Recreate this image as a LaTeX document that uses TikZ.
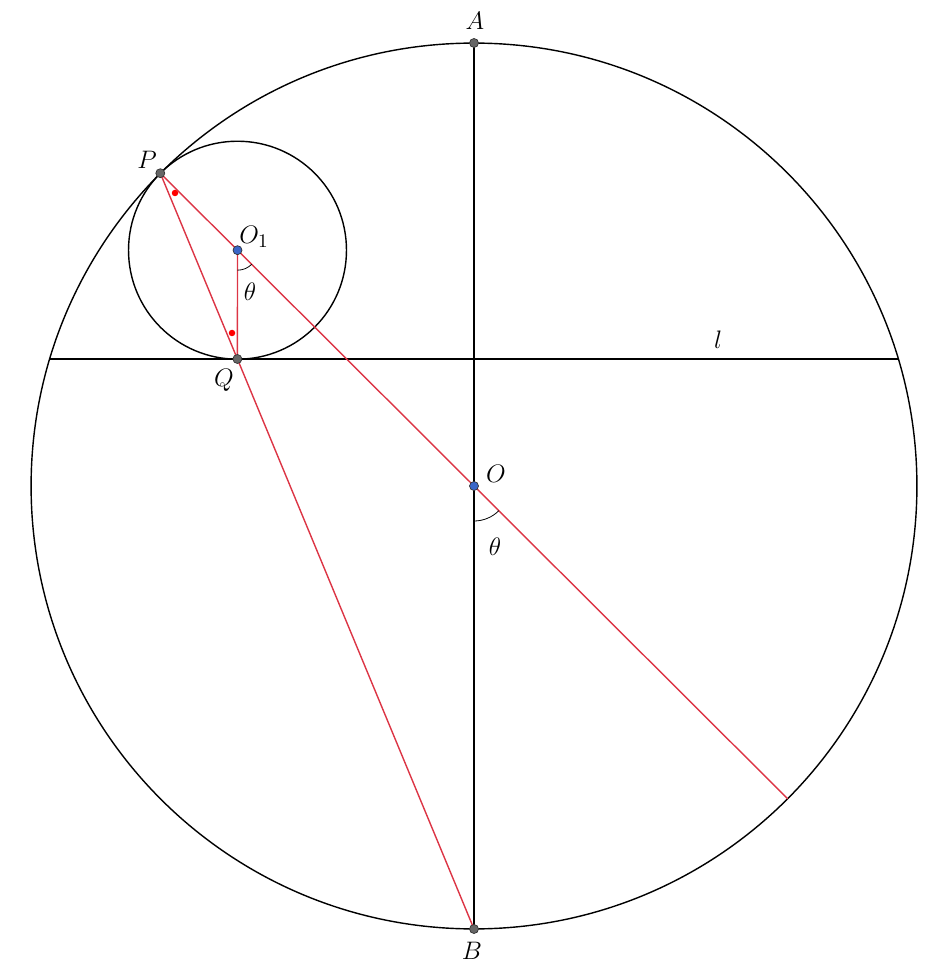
\documentclass[tikz,border=0pt]{standalone}
\usetikzlibrary{calc}
\definecolor{lred}{HTML}{DC3545}
\definecolor{ptgray}{HTML}{666666}
\definecolor{ptblue}{HTML}{3A66C8}
\begin{document}
\begin{tikzpicture}[x=0.02cm,y=-0.02cm,
  blk/.style={line width=0.8pt,black},
  redln/.style={line width=0.8pt,lred},
  grpt/.style={circle,fill=ptgray,draw=black!80,line width=0.4pt,inner sep=0pt,minimum size=0.18cm},
  blpt/.style={circle,fill=ptblue,draw=black!80,line width=0.4pt,inner sep=0pt,minimum size=0.18cm},
  rdot/.style={circle,fill=red,inner sep=0pt,minimum size=0.13cm},
  lbl/.style={font=\fontsize{15.5}{18}\selectfont,inner sep=0pt}]
\useasboundingbox (0,0) rectangle (947,972);
% key points
\coordinate (O) at (474,486);
\coordinate (A) at (474,43);
\coordinate (B) at (474,929);
\coordinate (P) at (160.3,173.2);
\coordinate (O1) at (237.5,250.2);
\coordinate (Q) at (237.4,359);
\coordinate (Pp) at (787.7,798.8);
\coordinate (L1) at (49.6,359);
\coordinate (L2) at (898.4,359);
% circles and black lines
\draw[blk] (O) circle[radius=8.86cm];
\draw[blk] (O1) circle[radius=2.18cm];
\draw[blk] (L1) -- (L2);
\draw[blk] (A) -- (B);
% red lines
\draw[redln] (P) -- (Pp);
\draw[redln] (P) -- (B);
\draw[redln] (O1) -- (Q);
% angle arcs
\draw[line width=0.45pt] ($(O1)+(-90:0.4cm)$) arc[start angle=-90,end angle=-45,radius=0.4cm];
\draw[line width=0.45pt] ($(O)+(-90:0.7cm)$) arc[start angle=-90,end angle=-45,radius=0.7cm];
% equal angle marks
\node[rdot] (m1) at (175,193) {};
\node[rdot] (m2) at (232,333) {};
% points
\node[grpt] (pA) at (A) {};
\node[grpt] (pB) at (B) {};
\node[grpt] (pP) at (P) {};
\node[grpt] (pQ) at (Q) {};
\node[blpt] (pO) at (O) {};
\node[blpt] (pO1) at (O1) {};
% labels
\node[lbl] (tA) at (475,21) {$A$};
\node[lbl] (tB) at (472,951) {$B$};
\node[lbl] (tP) at (147,160) {$P$};
\node[lbl] (tO1) at (254,237) {$O_1$};
\node[lbl] (tQ) at (224,380) {$Q$};
\node[lbl] (tO) at (496,474) {$O$};
\node[lbl] (tl) at (718,340) {$l$};
\node[lbl] (th1) at (250,292) {$\theta$};
\node[lbl] (th2) at (495,547) {$\theta$};
\end{tikzpicture}
\end{document}
